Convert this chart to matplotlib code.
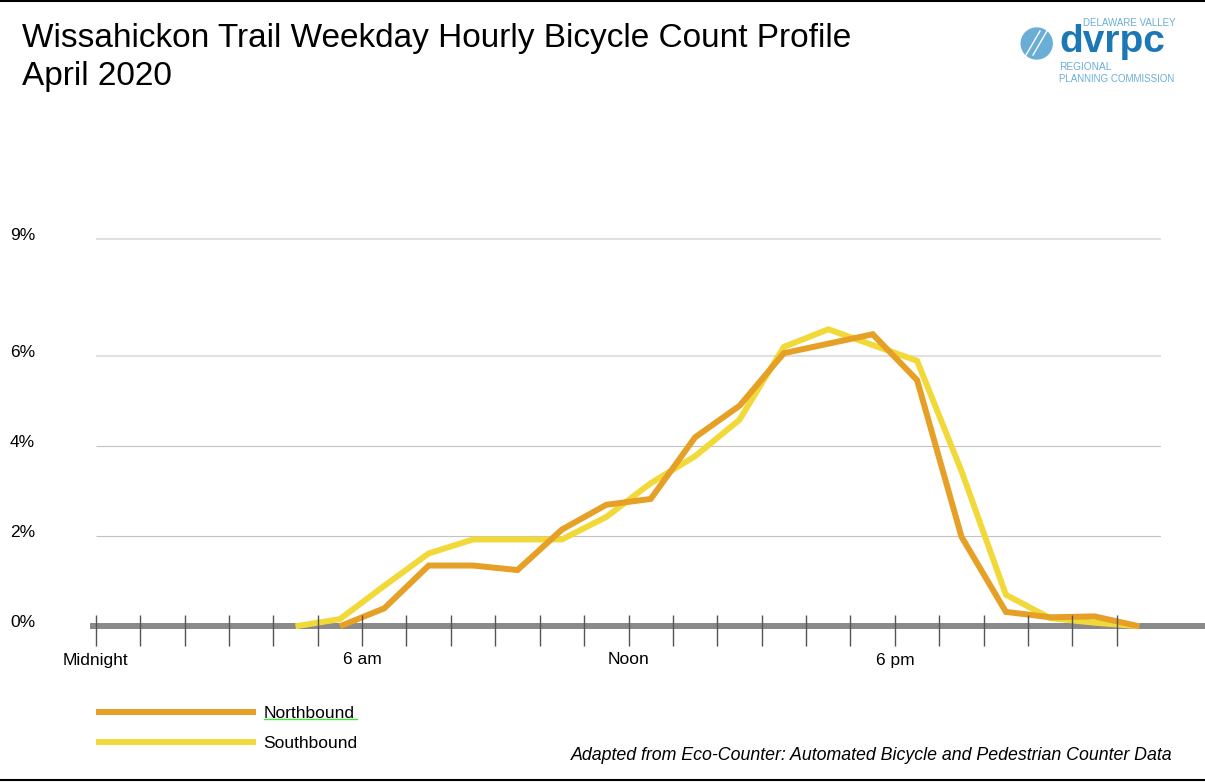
import numpy as np
import matplotlib.pyplot as plt
from matplotlib.lines import Line2D
from matplotlib.patches import Ellipse
from matplotlib import transforms

plt.rcParams['font.family'] = ['Liberation Sans', 'DejaVu Sans']

# share of daily weekday bicycle count by hour (%), April 2020
hours = np.arange(24)
northbound = [np.nan, np.nan, np.nan, np.nan, np.nan,
              0.0, 0.40, 1.35, 1.35, 1.25, 2.15, 2.70, 2.83, 4.20, 4.90,
              6.07, 6.28, 6.49, 5.47, 1.99, 0.32, 0.20, 0.22, 0.0]
southbound = [np.nan, np.nan, np.nan, np.nan,
              0.0, 0.16, 0.90, 1.62, 1.93, 1.93, 1.93, 2.43, 3.18, 3.78, 4.59,
              6.21, 6.60, 6.25, 5.90, 3.45, 0.70, 0.18, 0.08, 0.0]

y_ticks = [0, 2, 4, 6, 8.6]
y_labels = ['0%', '2%', '4%', '6%', '9%']
x_label_hours = [0, 6, 12, 18]
x_labels = ['Midnight', '6 am', 'Noon', '6 pm']

nb_color = '#E5A025'
sb_color = '#F2D93A'

W, H = 1205, 782
fig = plt.figure(figsize=(W / 100, H / 100), dpi=100)
ax = fig.add_axes([95.7 / W, (H - 626.3) / H, 1065.6 / W, 405 / H])
ax.set_xlim(0, 24)
ax.set_ylim(0, 9)
ax.axis('off')

# gridlines (upper two lighter)
grid_cols = ['#c2c2c2', '#c2c2c2', '#e0e0e0', '#e0e0e0']
grid_lw = [0.8, 0.8, 1.5, 1.5]
for v, c, lw in zip(y_ticks[1:], grid_cols, grid_lw):
    ax.hlines(v, 0, 24, colors=c, linewidth=lw, zorder=1)

# base axis line + hour ticks
ax.plot([-0.13, 25], [0, 0], color='#8a8a8a', lw=4.3, solid_capstyle='butt',
        clip_on=False, zorder=2)
ax.vlines(hours, -20 / 45, 11 / 45, colors='#555555', linewidth=1.0,
          clip_on=False, zorder=6)

ax.plot(hours + 0.5, southbound, color=sb_color, lw=4.3, label='Southbound',
        solid_joinstyle='miter', solid_capstyle='butt', clip_on=False, zorder=3)
ax.plot(hours + 0.5, northbound, color=nb_color, lw=4.3, label='Northbound',
        solid_joinstyle='miter', solid_capstyle='butt', clip_on=False, zorder=4)

lab_tr = ax.get_yaxis_transform() + transforms.ScaledTranslation(0, 4 / 100, fig.dpi_scale_trans)
for v, lab in zip(y_ticks, y_labels):
    ax.text(-85.7 / 1065.6, v, lab, transform=lab_tr, ha='left', va='center', fontsize=12.5)

for h, lab in zip(x_label_hours, x_labels):
    ax.text(h, -33.7 / 45, lab, ha='center', va='center', fontsize=12.5)

# legend, northbound first
hdl, lbl = ax.get_legend_handles_labels()
leg = fig.legend(hdl[::-1], lbl[::-1], loc='upper left',
                 bbox_to_anchor=(96 / W, 1 - 706 / H), frameon=False,
                 fontsize=12.5, handlelength=9.2, handletextpad=0.45,
                 labelspacing=0.85, borderpad=0, borderaxespad=0)
# green spell-check style underline under "Northbound"
fig.add_artist(Line2D([264 / W, 357 / W], [1 - 719 / H] * 2, color='#3fe83f', lw=1.0))

# titles
fig.text(22 / W, 1 - 46.7 / H, 'Wissahickon Trail Weekday Hourly Bicycle Count Profile',
         fontsize=24, va='baseline', ha='left')
fig.text(22 / W, 1 - 85 / H, 'April 2020', fontsize=24, va='baseline', ha='left')

fig.text(1172 / W, 1 - 755 / H,
         'Adapted from Eco-Counter: Automated Bicycle and Pedestrian Counter Data',
         fontsize=12.8, style='italic', ha='right', va='center')

# DVRPC logo
light = '#6aaed6'
dark = '#1c77b5'
fig.add_artist(Ellipse((1036.7 / W, 1 - 43.5 / H), 31 / W, 31 / H, color=light))
for dx in (-4, 3):
    fig.add_artist(Line2D([(1030 + dx) / W, (1044 + dx) / W],
                          [1 - 55 / H, 1 - 31 / H], color='white', lw=1.0))
fig.text(1059 / W, 1 - 52 / H, 'dvrpc', fontsize=28, fontweight='bold',
         color=dark, va='baseline', ha='left')
fig.text(1176 / W, 1 - 23 / H, 'DELAWARE VALLEY', fontsize=7, color=light,
         va='center', ha='right')
fig.text(1059 / W, 1 - 67.3 / H, 'REGIONAL', fontsize=7.3, color=light,
         va='center', ha='left')
fig.text(1059 / W, 1 - 79.3 / H, 'PLANNING COMMISSION', fontsize=7, color=light,
         va='center', ha='left')

# frame lines top and bottom
fig.add_artist(Line2D([0, 1], [1 - 1 / H] * 2, color='black', lw=1.5))
fig.add_artist(Line2D([0, 1], [1 - 780 / H] * 2, color='black', lw=1.5))

fig.savefig('out.png', dpi=100)
